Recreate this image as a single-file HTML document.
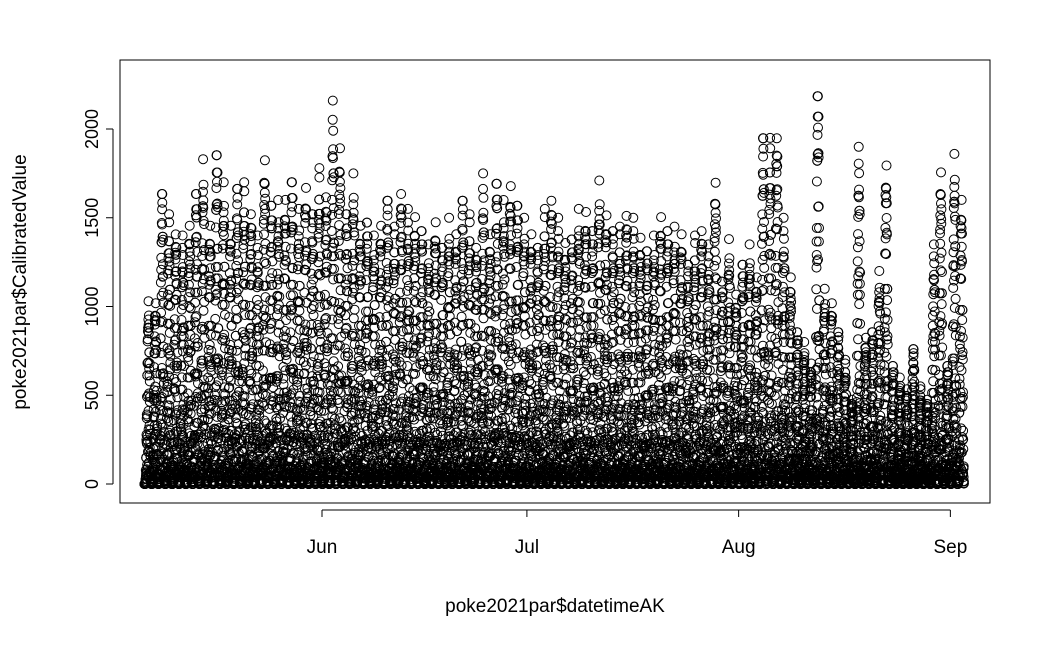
<!DOCTYPE html>
<html><head><meta charset="utf-8"><style>
body{margin:0;background:#fff}
svg{display:block;font-family:"Liberation Sans",Arial,sans-serif}
</style></head><body>
<svg id="chart" width="1050" height="648">
<rect x="0" y="0" width="1050" height="648" fill="#fff"/>
<g id="pts"></g>
<rect x="120" y="60" width="870" height="443" fill="none" stroke="#000" stroke-width="1"/>
<g id="axes"></g>
<text x="555" y="612" text-anchor="middle" font-size="19">poke2021par$datetimeAK</text>
<text transform="translate(26,282) rotate(-90)" text-anchor="middle" font-size="19">poke2021par$CalibratedValue</text>
</svg>
<script>
// Daily peak PAR values, starting May 6 (day offset -26 relative to Jun 1)
const startDay = -26;
const dailyPeak = [1030,1050,1720,1520,1480,1400,1500,
1720,1830,1500,1950,1700,1500,1750,
1700,1600,1400,1880,1650,1600,1650,
1790,1550,1720,1600,1780,
1700,2160,1950,1600,1750,1500,1550,
1400,1500,1680,1450,1720,1550,1550,
1500,1350,1520,1400,1500,1450,1680,
1520,1400,1750,1450,1780,1600,1730,
1650,1500,1450,
1400,1550,1680,1500,1400,1450,1550,
1580,1500,1710,1560,1500,1450,1590,
1500,1430,1380,1400,1550,1500,1450,
1450,1300,1400,1500,1350,1750,1200,1380,1100,
1300,1350,1200,2050,1950,2050,1500,1200,900,800,700,2300,1100,1050,900,700,500,1900,850,900,1200,1850,700,600,550,800,550,500,1350,1810,700,1860,1650];
// Relative diurnal shape (hourly fraction of daily peak)
const hourShape = [0,0,0,0.01,0.03,0.08,0.16,0.27,0.4,0.53,0.66,0.78,0.88,0.95,1,0.97,0.9,0.8,0.66,0.5,0.33,0.17,0.06,0.01];
// Cloud modulation factors for sub-hourly samples
const cloudPattern = [1,0.3,0.85,0.12,0.95,0.55,0.2,0.7,0.05,0.9,0.4];
const yTicks = [0,500,1000,1500,2000];
const xTickLabels = ["Jun","Jul","Aug","Sep"];
const xTickDays = [0,30,61,92];

const NS="http://www.w3.org/2000/svg";
const xScale = d => 322 + d*6.83;
const yScale = v => 484 - v*0.1775;
const pts=document.getElementById('pts');
dailyPeak.forEach((pk,i)=>{
  const day=startDay+i;
  hourShape.forEach((f,h)=>{
    for(let k=0;k<4;k++){
      const c = cloudPattern[(i*7+h*3+k)%cloudPattern.length];
      const v = pk*f*(k===0?Math.max(c,0.9):c);
      const el=document.createElementNS(NS,'circle');
      el.setAttribute('cx',xScale(day+(h+k/4)/24).toFixed(1));
      el.setAttribute('cy',yScale(v).toFixed(1));
      el.setAttribute('r','4.5');
      el.setAttribute('fill','none');
      el.setAttribute('stroke','#000');
      
      
      pts.appendChild(el);
    }
  });
});
const ax=document.getElementById('axes');
function add(tag,attrs,txt){const e=document.createElementNS(NS,tag);for(const k in attrs)e.setAttribute(k,attrs[k]);if(txt)e.textContent=txt;ax.appendChild(e);return e;}
add('line',{x1:113,x2:113,y1:yScale(0),y2:yScale(2000),stroke:'#000',});
yTicks.forEach(t=>{
  const y=yScale(t);
  const l=add('line',{x1:106,x2:113,y1:y,y2:y,stroke:'#000'});
  
  
  const tx=add('text',{transform:`translate(98,${y}) rotate(-90)`,'text-anchor':'middle','font-size':18},String(t));
  
  
});
add('line',{x1:xScale(0),x2:xScale(92),y1:510,y2:510,stroke:'#000',});
xTickDays.forEach((d,i)=>{
  const x=xScale(d);
  const l=add('line',{x1:x,x2:x,y1:510,y2:517,stroke:'#000'});
  
  
  const tx=add('text',{x:x,y:553,'text-anchor':'middle','font-size':19},xTickLabels[i]);
  
  
});
</script>
</body></html>
